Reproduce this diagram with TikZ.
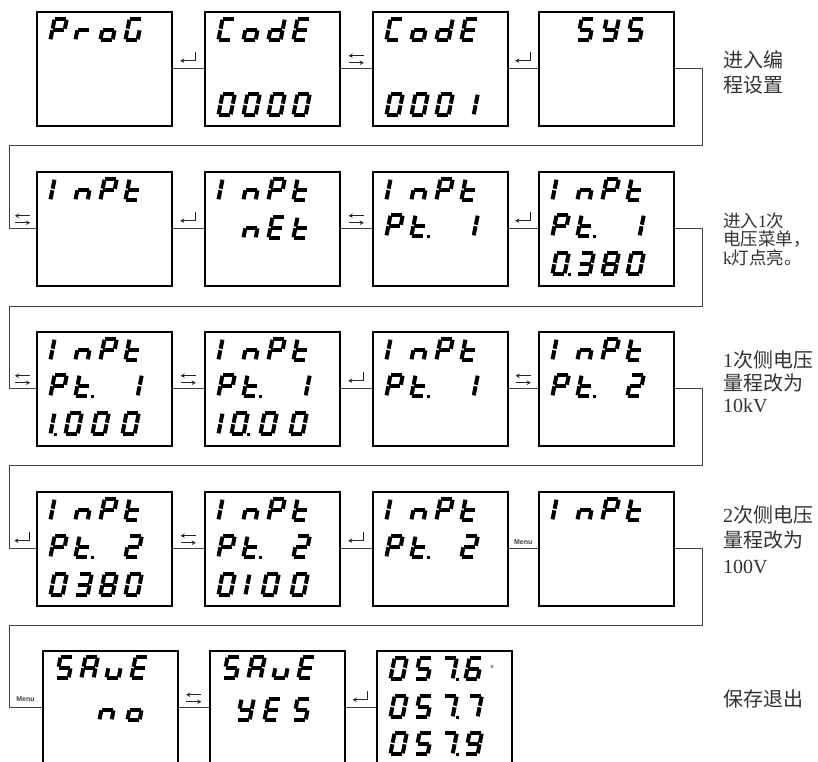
\documentclass[tikz,border=0pt]{standalone}
\usepackage{fontspec}
\setmainfont{Liberation Serif}
\setsansfont{Liberation Sans}
\newfontfamily\cjk{Noto Sans CJK SC}
\usetikzlibrary{arrows.meta,calc}

% seven-segment parts: #1 = x of glyph bottom-left, #2 = y of baseline (y grows downwards)
\newcommand\SEGa[2]{\draw[segline] ({#1+2.8+0.2*23},{#2-23}) -- ({#1+13.4+0.2*23},{#2-23});}
\newcommand\SEGb[2]{\draw[segline] ({#1+14.2+0.2*22.3},{#2-22.3}) -- ({#1+14.2+0.2*13.3},{#2-13.3});}
\newcommand\SEGc[2]{\draw[segline] ({#1+14.2+0.2*11.7},{#2-11.7}) -- ({#1+14.2+0.2*2.7},{#2-2.7});}
\newcommand\SEGd[2]{\draw[segline] ({#1+2.8+0.2*2},{#2-2}) -- ({#1+13.4+0.2*2},{#2-2});}
\newcommand\SEGe[2]{\draw[segline] ({#1+2+0.2*11.7},{#2-11.7}) -- ({#1+2+0.2*2.7},{#2-2.7});}
\newcommand\SEGf[2]{\draw[segline] ({#1+2+0.2*22.3},{#2-22.3}) -- ({#1+2+0.2*13.3},{#2-13.3});}
\newcommand\SEGg[2]{\draw[segline] ({#1+2.8+0.2*12.5},{#2-12.5}) -- ({#1+13.4+0.2*12.5},{#2-12.5});}
\newcommand\SEGp[2]{\fill ({#1+17.5},{#2-3.2}) rectangle ++(3.2,3.2);}
\newcommand\SEGq[2]{\fill ({#1+6},{#2-3.2}) rectangle ++(3.2,3.2);}
\newcommand\SEGx[2]{}
\newcommand\sg[3]{\edef\seglist{#3}\foreach \q in \seglist {\csname SEG\q\endcsname{#1}{#2}}}
\newcommand\cells[6]{\sg{#1+12}{#2}{#3}\sg{#1+37}{#2}{#4}\sg{#1+62}{#2}{#5}\sg{#1+87}{#2}{#6}}

% characters
\def\Dz{a,b,c,d,e,f}
\def\Do{b,c}
\def\Dl{e,f}
\def\Dtwo{a,b,g,e,d}
\def\Dthree{a,b,g,c,d}
\def\Dfive{a,f,g,c,d}
\def\Dsix{a,f,g,e,d,c}
\def\Dseven{a,b,c}
\def\Deight{a,b,c,d,e,f,g}
\def\Dnine{a,b,c,d,f,g}
\def\LP{a,b,e,f,g}
\def\Lr{e,g}
\def\Lo{c,d,e,g}
\def\LG{a,c,d,e,f}
\def\LC{a,d,e,f}
\def\Ld{b,c,d,e,g}
\def\LE{a,d,e,f,g}
\def\LY{b,c,d,f,g}
\def\Ln{c,e,g}
\def\Lt{d,e,f,g}
\def\LA{a,b,c,e,f,g}
\def\Lu{c,d,e}
\def\Lx{x}
\newcommand\InPt[2]{\cells{#1}{#2}{\Dl}{\Ln}{\LP}{\Lt}}
\newcommand\PtN[3]{\cells{#1}{#2}{\LP}{\Lt,p}{\Lx}{#3}}

\tikzset{
  panel/.style={draw=black, line width=1.5pt, minimum width=135pt, minimum height=114pt, inner sep=0pt, anchor=north west},
  conn/.style={draw=black!75, line width=1pt},
  segline/.style={line width=4pt, line cap=butt, black},
  symline/.style={line width=1pt, black!85},
  menulabel/.style={font=\sffamily\bfseries\fontsize{7}{7}\selectfont, text=black!75, inner sep=0pt, anchor=south},
  note/.style={font=\fontsize{20}{20}\selectfont, text=black!80, inner sep=0pt, anchor=west},
  notesmall/.style={font=\fontsize{17.5}{17.5}\selectfont, text=black!80, inner sep=0pt, anchor=west},
  pics/enterkey/.style={code={\draw[symline,-{Stealth[length=4pt,width=4.5pt]}] (7,-17) -- (7,-8) -- (-8,-8);}},
  pics/swapkeys/.style={code={
    \draw[symline,-{Stealth[length=4pt,width=4.5pt]}] (7.5,-13) -- (-7.5,-13);
    \draw[symline,-{Stealth[length=4pt,width=4.5pt]}] (-7.5,-6) -- (7.5,-6);}},
}

\begin{document}
\begin{tikzpicture}[x=1pt,y=-1pt]
\useasboundingbox (0,0) rectangle (818,761);
\clip (0,0) rectangle (818,761);

% ---------- panels ----------
\node[panel] (r1b1) at (36,11) {};
\node[panel] (r1b2) at (204,11) {};
\node[panel] (r1b3) at (372,11) {};
\node[panel] (r1b4) at (538,11) {};
\node[panel] (r2b1) at (36,171) {};
\node[panel] (r2b2) at (204,171) {};
\node[panel] (r2b3) at (372,171) {};
\node[panel] (r2b4) at (538,171) {};
\node[panel] (r3b1) at (36,331) {};
\node[panel] (r3b2) at (204,331) {};
\node[panel] (r3b3) at (372,331) {};
\node[panel] (r3b4) at (538,331) {};
\node[panel] (r4b1) at (36,491) {};
\node[panel] (r4b2) at (204,491) {};
\node[panel] (r4b3) at (372,491) {};
\node[panel] (r4b4) at (538,491) {};
\node[panel] (r5b1) at (42,650) {};
\node[panel] (r5b2) at (209,650) {};
\node[panel] (r5b3) at (376,650) {};

% ---------- display contents ----------
% row 1
\cells{36}{42}{\LP}{\Lr}{\Lo}{\LG}
\cells{204}{42}{\LC}{\Lo}{\Ld}{\LE}
\cells{204}{117}{\Dz}{\Dz}{\Dz}{\Dz}
\cells{372}{42}{\LC}{\Lo}{\Ld}{\LE}
\cells{372}{117}{\Dz}{\Dz}{\Dz}{\Do}
\cells{538}{42}{\Lx}{\Dfive}{\LY}{\Dfive}
% row 2
\InPt{36}{202}
\InPt{204}{202}
\cells{204}{240}{\Lx}{\Ln}{\LE}{\Lt}
\InPt{372}{202}
\PtN{372}{238}{\Do}
\InPt{538}{202}
\PtN{538}{238}{\Do}
\cells{538}{276}{\Dz,p}{\Dthree}{\Deight}{\Dz}
% row 3
\InPt{36}{362}
\PtN{36}{398}{\Do}
\sg{36+12}{436}{e,f,q}\sg{36+27}{436}{\Dz}\sg{36+54}{436}{\Dz}\sg{36+84}{436}{\Dz}
\InPt{204}{362}
\PtN{204}{398}{\Do}
\sg{204+12}{436}{e,f}\sg{204+25}{436}{\Dz,p}\sg{204+54}{436}{\Dz}\sg{204+84}{436}{\Dz}
\InPt{372}{362}
\PtN{372}{398}{\Do}
\InPt{538}{362}
\PtN{538}{398}{\Dtwo}
% row 4
\InPt{36}{522}
\PtN{36}{559}{\Dtwo}
\cells{36}{597}{\Dz}{\Dthree}{\Deight}{\Dz}
\InPt{204}{522}
\PtN{204}{559}{\Dtwo}
\sg{204+12}{597}{\Dz}\sg{204+39}{597}{e,f}\sg{204+56}{597}{\Dz}\sg{204+85}{597}{\Dz}
\InPt{372}{522}
\PtN{372}{559}{\Dtwo}
\InPt{538}{522}
% row 5
\cells{42}{680}{\Dfive}{\LA}{\Lu}{\LE}
\sg{42+55}{722}{\Ln}\sg{42+83}{722}{\Lo}
\cells{209}{680}{\Dfive}{\LA}{\Lu}{\LE}
\sg{209+26}{722}{\LY}\sg{209+53}{722}{\LE}\sg{209+82}{722}{\Dfive}
\cells{376}{681}{\Dz}{\Dfive}{\Dseven,p}{\Dsix}
\cells{376}{719}{\Dz}{\Dfive}{\Dseven,p}{\Dseven}
\cells{376}{756}{\Dz}{\Dfive}{\Dseven,p}{\Dnine}
\node[font=\sffamily\fontsize{6}{6}\selectfont, inner sep=0pt] (unitv) at (492,667) {v};

% ---------- connectors within rows ----------
\draw[conn] (r1b1.east) -- (r1b2.west);
\pic at ($(r1b1.east)!.5!(r1b2.west)$) {enterkey};
\draw[conn] (r1b2.east) -- (r1b3.west);
\pic at ($(r1b2.east)!.5!(r1b3.west)$) {swapkeys};
\draw[conn] (r1b3.east) -- (r1b4.west);
\pic at ($(r1b3.east)!.5!(r1b4.west)$) {enterkey};

\draw[conn] (r2b1.east) -- (r2b2.west);
\pic at ($(r2b1.east)!.5!(r2b2.west)$) {enterkey};
\draw[conn] (r2b2.east) -- (r2b3.west);
\pic at ($(r2b2.east)!.5!(r2b3.west)$) {swapkeys};
\draw[conn] (r2b3.east) -- (r2b4.west);
\pic at ($(r2b3.east)!.5!(r2b4.west)$) {enterkey};

\draw[conn] (r3b1.east) -- (r3b2.west);
\pic at ($(r3b1.east)!.5!(r3b2.west)$) {swapkeys};
\draw[conn] (r3b2.east) -- (r3b3.west);
\pic at ($(r3b2.east)!.5!(r3b3.west)$) {enterkey};
\draw[conn] (r3b3.east) -- (r3b4.west);
\pic at ($(r3b3.east)!.5!(r3b4.west)$) {swapkeys};

\draw[conn] (r4b1.east) -- (r4b2.west);
\pic at ($(r4b1.east)!.5!(r4b2.west)$) {swapkeys};
\draw[conn] (r4b2.east) -- (r4b3.west);
\pic at ($(r4b2.east)!.5!(r4b3.west)$) {enterkey};
\draw[conn] (r4b3.east) -- (r4b4.west);
\node[menulabel] (menuA) at ($(r4b3.east)!.5!(r4b4.west)+(0,-4)$) {Menu};

\draw[conn] (r5b1.east) -- (r5b2.west);
\pic at ($(r5b1.east)!.5!(r5b2.west)$) {swapkeys};
\draw[conn] (r5b2.east) -- (r5b3.west);
\pic at ($(r5b2.east)!.5!(r5b3.west)$) {enterkey};

% ---------- connectors between rows ----------
\coordinate (k1) at (702,145); \coordinate (m1) at (9,145);
\coordinate (k2) at (702,306); \coordinate (m2) at (9,306);
\coordinate (k3) at (702,465); \coordinate (m3) at (9,465);
\coordinate (k4) at (702,625); \coordinate (m4) at (9,625);
\draw[conn] (r1b4.east) -| (k1) -- (m1) |- (r2b1.west);
\pic at ($(m1 |- r2b1.west)!.5!(r2b1.west)$) {swapkeys};
\draw[conn] (r2b4.east) -| (k2) -- (m2) |- (r3b1.west);
\pic at ($(m2 |- r3b1.west)!.5!(r3b1.west)$) {swapkeys};
\draw[conn] (r3b4.east) -| (k3) -- (m3) |- (r4b1.west);
\pic at ($(m3 |- r4b1.west)!.5!(r4b1.west)$) {enterkey};
\draw[conn] (r4b4.east) -| (k4) -- (m4) |- (r5b1.west);
\node[menulabel] (menuB) at ($(m4 |- r5b1.west)!.5!(r5b1.west)+(0,-6)$) {Menu};

% ---------- notes ----------
\node[note] (n1a) at (723,60) {\cjk 进入编};
\node[note] (n1b) at (723,85) {\cjk 程设置};
\node[notesmall] (n2a) at (723,221) {\cjk 进入{\rmfamily 1}次};
\node[notesmall] (n2b) at (723,239) {\cjk 电压菜单，};
\node[notesmall] (n2c) at (723,258) {{\rmfamily k}\cjk 灯点亮。};
\node[note] (n3a) at (723,360) {{\rmfamily 1}\cjk 次侧电压};
\node[note] (n3b) at (723,383) {\cjk 量程改为};
\node[note] (n3c) at (723,406) {10kV};
\node[note] (n4a) at (723,515) {{\rmfamily 2}\cjk 次侧电压};
\node[note] (n4b) at (723,540) {\cjk 量程改为};
\node[note] (n4c) at (723,567) {100V};
\node[note] (n5a) at (723,699) {\cjk 保存退出};
\end{tikzpicture}
\end{document}
